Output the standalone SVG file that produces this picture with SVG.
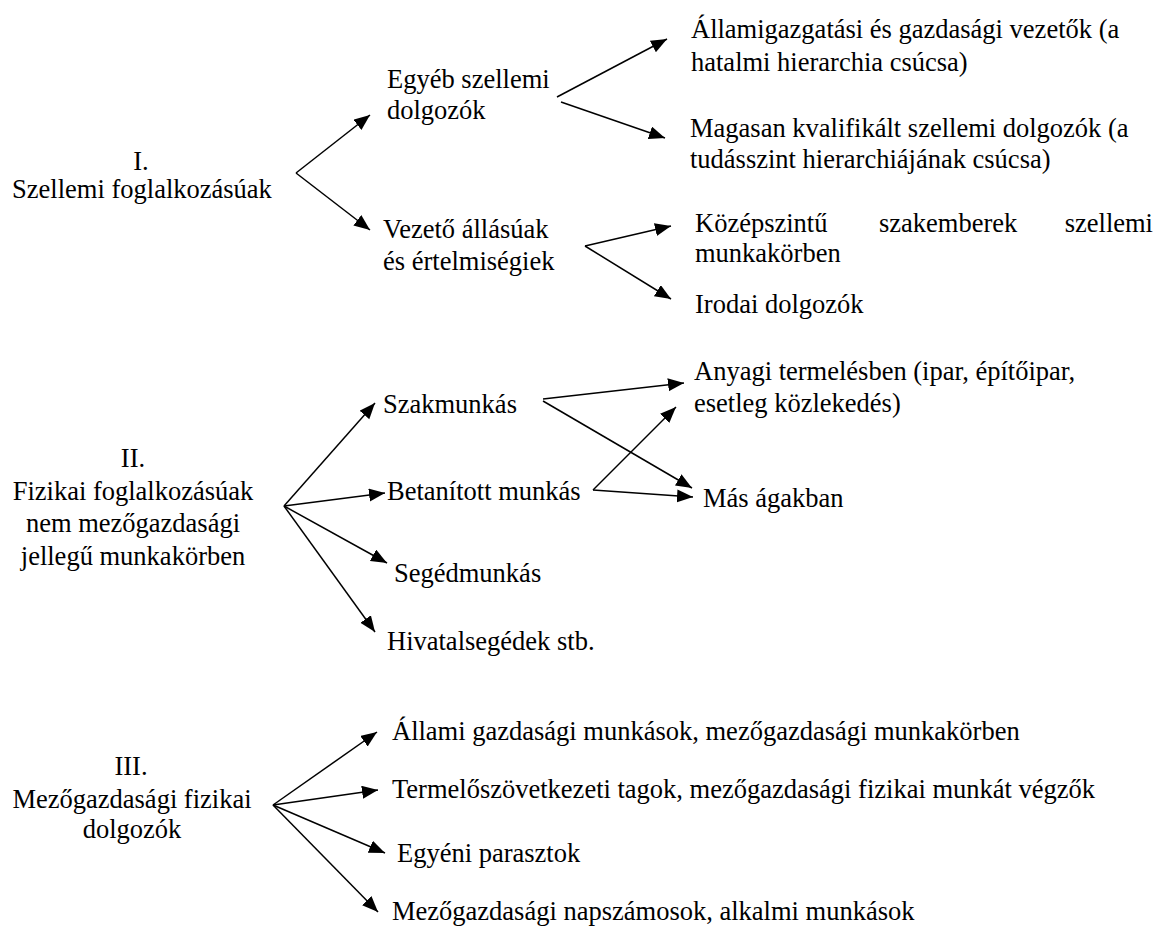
<svg xmlns="http://www.w3.org/2000/svg" width="1158" height="927" viewBox="0 0 1158 927">
  <defs>
    <style>
      text { font-family: "Liberation Serif", "Times New Roman", serif; font-size: 26.5px; fill: #000; }
      .c { text-anchor: middle; }
      .e { text-anchor: end; }
      .link { stroke: #000; stroke-width: 1.5; fill: none; marker-end: url(#head); }
    </style>
    <marker id="head" markerUnits="userSpaceOnUse" markerWidth="17" markerHeight="14" refX="16" refY="6.5" orient="auto">
      <path d="M0,0 L16,6.5 L0,13 Z" fill="#000"/>
    </marker>
  </defs>
  <rect width="1158" height="927" fill="#fff"/>

  <!-- connectors -->
  <g id="connectors">
    <!-- I. branch -->
    <line class="link" x1="296" y1="173" x2="370" y2="115"/>
    <line class="link" x1="296" y1="173" x2="370" y2="230"/>
    <line class="link" x1="557" y1="97" x2="667" y2="39"/>
    <line class="link" x1="561" y1="102" x2="665" y2="138"/>
    <line class="link" x1="585" y1="246" x2="671" y2="226"/>
    <line class="link" x1="585" y1="246" x2="671" y2="299"/>
    <!-- II. branch -->
    <line class="link" x1="284" y1="506" x2="375" y2="403"/>
    <line class="link" x1="284" y1="506" x2="385" y2="493"/>
    <line class="link" x1="284" y1="506" x2="387" y2="563"/>
    <line class="link" x1="284" y1="506" x2="375" y2="632"/>
    <line class="link" x1="543" y1="399" x2="684" y2="383"/>
    <line class="link" x1="543" y1="401" x2="692" y2="488"/>
    <line class="link" x1="593" y1="490" x2="676" y2="407"/>
    <line class="link" x1="593" y1="490" x2="693" y2="497"/>
    <!-- III. branch -->
    <line class="link" x1="273" y1="805" x2="377" y2="732"/>
    <line class="link" x1="273" y1="805" x2="378" y2="790"/>
    <line class="link" x1="273" y1="805" x2="385" y2="853"/>
    <line class="link" x1="273" y1="805" x2="378" y2="912"/>
  </g>

  <!-- I. -->
  <g id="n-szellemi">
    <text class="c" x="141" y="170">I.</text>
    <text class="c" x="142" y="198">Szellemi foglalkozásúak</text>
  </g>
  <g id="n-egyeb">
    <text x="387" y="88">Egyéb szellemi</text>
    <text x="387" y="119">dolgozók</text>
  </g>
  <g id="n-vezeto">
    <text x="383" y="238">Vezető állásúak</text>
    <text x="383" y="270">és értelmiségiek</text>
  </g>
  <g id="n-allamigazgatasi">
    <text x="691" y="38">Államigazgatási és gazdasági vezetők (a</text>
    <text x="691" y="71">hatalmi hierarchia csúcsa)</text>
  </g>
  <g id="n-magasan">
    <text x="690" y="137">Magasan kvalifikált szellemi dolgozók (a</text>
    <text x="690" y="168">tudásszint hierarchiájának csúcsa)</text>
  </g>
  <g id="n-kozepszintu">
    <text x="695" y="232">Középszintű</text>
    <text x="879" y="232">szakemberek</text>
    <text class="e" x="1153" y="232">szellemi</text>
    <text x="695" y="262">munkakörben</text>
  </g>
  <g id="n-irodai">
    <text x="695" y="313">Irodai dolgozók</text>
  </g>

  <!-- II. -->
  <g id="n-fizikai">
    <text class="c" x="133" y="467">II.</text>
    <text class="c" x="133" y="500">Fizikai foglalkozásúak</text>
    <text class="c" x="133" y="532">nem mezőgazdasági</text>
    <text class="c" x="133" y="565">jellegű munkakörben</text>
  </g>
  <g id="n-szakmunkas">
    <text x="383" y="413">Szakmunkás</text>
  </g>
  <g id="n-betanitott">
    <text x="387" y="500">Betanított munkás</text>
  </g>
  <g id="n-segedmunkas">
    <text x="394" y="582">Segédmunkás</text>
  </g>
  <g id="n-hivatalsegedek">
    <text x="387" y="650">Hivatalsegédek stb.</text>
  </g>
  <g id="n-anyagi">
    <text x="694" y="380">Anyagi termelésben (ipar, építőipar,</text>
    <text x="694" y="412">esetleg közlekedés)</text>
  </g>
  <g id="n-mas">
    <text x="703" y="507">Más ágakban</text>
  </g>

  <!-- III. -->
  <g id="n-mezogazdasagi">
    <text class="c" x="131" y="775">III.</text>
    <text class="c" x="132" y="808">Mezőgazdasági fizikai</text>
    <text class="c" x="132" y="838">dolgozók</text>
  </g>
  <g id="n-allami">
    <text x="392" y="740">Állami gazdasági munkások, mezőgazdasági munkakörben</text>
  </g>
  <g id="n-termelo">
    <text x="392" y="798">Termelőszövetkezeti tagok, mezőgazdasági fizikai munkát végzők</text>
  </g>
  <g id="n-egyeni">
    <text x="397" y="862">Egyéni parasztok</text>
  </g>
  <g id="n-napszamosok">
    <text x="392" y="920">Mezőgazdasági napszámosok, alkalmi munkások</text>
  </g>
</svg>
